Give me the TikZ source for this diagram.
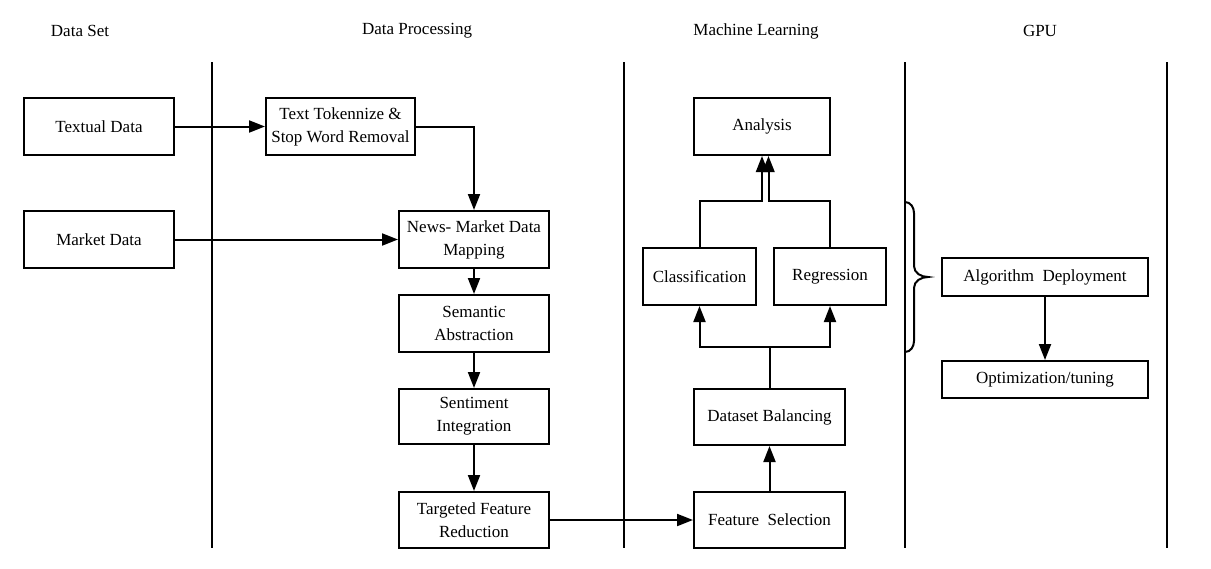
\documentclass[tikz,border=0pt]{standalone}
\usepackage{fontspec}
\setmainfont{Liberation Serif}
\usetikzlibrary{arrows.meta,calc}
\begin{document}
\begin{tikzpicture}[x=1pt,y=-1pt,
  box/.style={draw,line width=2pt,inner sep=0pt,align=center,font=\fontsize{17}{23}\selectfont},
  title/.style={font=\fontsize{17}{23}\selectfont,inner sep=0pt},
  conn/.style={line width=2pt},
  arr/.style={conn,-{Triangle[length=16pt,width=12pt]}},
  lane/.style={line width=2pt}]
\useasboundingbox (0,0) rectangle (1211,568);
% titles
\node[title] (t1) at (80,31) {Data Set};
\node[title] (t2) at (417,31) {Data Processing};
\node[title] (t3) at (756,31) {Machine Learning};
\node[title] (t4) at (1040,31) {GPU};
% lanes
\draw[lane] (212,62) -- (212,548);
\draw[lane] (624,62) -- (624,548);
\draw[lane] (905,62) -- (905,548);
\draw[lane] (1167,62) -- (1167,548);
% boxes
\node[box,minimum width=150pt,minimum height=57pt] (td) at (99,126.5) {Textual Data};
\node[box,minimum width=150pt,minimum height=57pt] (md) at (99,239.5) {Market Data};
\node[box,minimum width=149pt,minimum height=57pt] (tok) at (340.5,126.5) {Text Tokennize \&\\Stop Word Removal};
\node[box,minimum width=150pt,minimum height=57pt] (news) at (474,239.5) {News- Market Data\\Mapping};
\node[box,minimum width=150pt,minimum height=57pt] (sem) at (474,323.5) {Semantic\\Abstraction};
\node[box,minimum width=150pt,minimum height=55pt] (sent) at (474,416.5) {Sentiment\\Integration};
\node[box,minimum width=150pt,minimum height=56pt] (tfr) at (474,520) {Targeted Feature\\Reduction};
\node[box,minimum width=151pt,minimum height=56pt] (fs) at (769.5,520) {Feature\ \ Selection};
\node[box,minimum width=151pt,minimum height=56pt] (db) at (769.5,417) {Dataset Balancing};
\node[box,minimum width=113pt,minimum height=57pt] (cls) at (699.5,276.5) {Classification};
\node[box,minimum width=112pt,minimum height=57pt] (reg) at (830,276.5) {Regression};
\node[box,minimum width=136pt,minimum height=57pt] (ana) at (762,126.5) {Analysis};
\node[box,minimum width=206pt,minimum height=38pt] (alg) at (1045,277) {Algorithm\ \ Deployment};
\node[box,minimum width=206pt,minimum height=37pt] (opt) at (1045,379.5) {Optimization/tuning};
% connectors
\draw[arr] (td) -- (tok);
\draw[arr] (tok.east) -| (news.north);
\draw[arr] (md) -- (news);
\draw[arr] (news) -- (sem);
\draw[arr] (sem) -- (sent);
\draw[arr] (sent) -- (tfr);
\draw[arr] (tfr) -- (fs);
\draw[arr] (fs) -- (db);
\coordinate (split) at (769.5,347);
\draw[conn] (db.north) -- (split);
\draw[arr] (split) -| (cls.south);
\draw[arr] (split) -| (reg.south);
\coordinate (anaL) at ($(ana.south)+(0,0)$);
\coordinate (anaR) at ($(ana.south)+(6.5,0)$);
\draw[arr] (cls.north) -- ++(0,-46) -| (anaL);
\draw[arr] (reg.north) -- ++(0,-46) -| (anaR);
\draw[arr] (alg) -- (opt);
% brace
\draw[conn] (905,202) to[out=0,in=90] (914,213) -- (914,266) to[out=-90,in=180] (928,277)
  to[out=180,in=90] (914,288) -- (914,341) to[out=-90,in=0] (905,352);
\end{tikzpicture}
\end{document}
